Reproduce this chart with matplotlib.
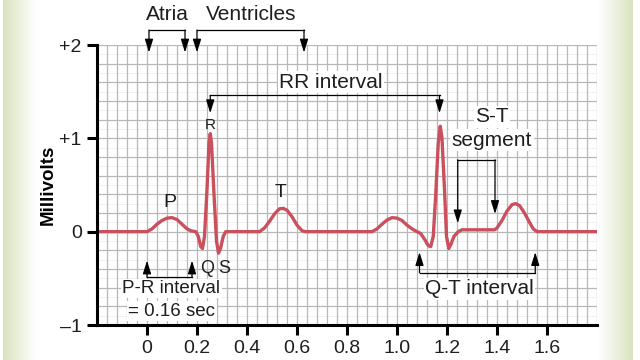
import numpy as np
import matplotlib
matplotlib.use("Agg")
import matplotlib.pyplot as plt

plt.rcParams['font.family'] = ['Liberation Sans', 'DejaVu Sans']

# -----------------------------
# ECG trace (time in s, voltage in mV)
# -----------------------------
t_sec = [-0.2, 0.0, 0.02, 0.04, 0.06, 0.08, 0.10, 0.12, 0.14, 0.16, 0.175,
         0.195, 0.205, 0.215, 0.222, 0.23, 0.24, 0.248, 0.253, 0.258, 0.268,
         0.278, 0.286, 0.294, 0.305, 0.315, 0.45, 0.47, 0.49, 0.51, 0.53,
         0.545, 0.56, 0.58, 0.60, 0.62, 0.635, 0.90, 0.92, 0.94, 0.96, 0.98,
         1.00, 1.02, 1.04, 1.06, 1.08, 1.095, 1.11, 1.125, 1.135, 1.145,
         1.155, 1.165, 1.173, 1.18, 1.19, 1.198, 1.207, 1.215, 1.228, 1.245,
         1.26, 1.39, 1.40, 1.42, 1.44, 1.46, 1.475, 1.49, 1.51, 1.53, 1.545,
         1.56, 1.8]
mv = [0.0, 0.0, 0.03, 0.08, 0.12, 0.145, 0.15, 0.13, 0.08, 0.03, 0.01,
      0.0, -0.05, -0.16, -0.18, -0.05, 0.45, 0.95, 1.05, 0.95, 0.4,
      -0.1, -0.23, -0.18, -0.05, 0.0, 0.0, 0.04, 0.11, 0.19, 0.245,
      0.25, 0.23, 0.16, 0.07, 0.01, 0.0, 0.0, 0.03, 0.08, 0.125, 0.15,
      0.145, 0.12, 0.07, 0.03, 0.0, -0.02, -0.08, -0.15, -0.16, -0.05,
      0.4, 0.95, 1.13, 1.0, 0.45, -0.05, -0.18, -0.14, -0.05, 0.0,
      0.02, 0.02, 0.04, 0.12, 0.22, 0.29, 0.30, 0.28, 0.2, 0.1, 0.03,
      0.0, 0.0]

x_ticks = [0, 0.2, 0.4, 0.6, 0.8, 1.0, 1.2, 1.4, 1.6]
x_tick_labels = ["0", "0.2", "0.4", "0.6", "0.8", "1.0", "1.2", "1.4", "1.6"]
y_ticks = [-1, 0, 1, 2]
y_tick_labels = ["\u20131", "0", "+1", "+2"]

# brackets: x left, x right, y of bracket line, y of arrow tips
atria_br = (0.008, 0.152, 2.16, 1.92)
ventricles_br = (0.2, 0.628, 2.16, 1.92)
rr_br = (0.253, 1.17, 1.46, 1.27)
st_br = (1.243, 1.392, 0.77, (0.09, 0.19))
pr_br = (0.0, 0.18, -0.49, -0.31)
qt_br = (1.09, 1.553, -0.44, -0.22)

ecg_color = "#c9505c"
txt_color = "#1e1e1e"

fig = plt.figure(figsize=(6.4, 3.6), dpi=100)

# greenish side strips
def side_strip(rect, reverse):
    sax = fig.add_axes(rect, zorder=-5)
    g = np.linspace(0, 1, 64)
    if reverse:
        g = g[::-1]
    green = np.array([0.85, 0.89, 0.75])
    white = np.array([1.0, 1.0, 1.0])
    row = white[None, :] * g[:, None] + green[None, :] * (1 - g[:, None])
    sax.imshow(row[None, :, :], aspect="auto", extent=(0, 1, 0, 1))
    sax.axis("off")

side_strip([3 / 640, 0, 34 / 640, 1], reverse=False)
side_strip([598 / 640, 0, 35 / 640, 1], reverse=True)

ax = fig.add_axes([97 / 640, 35 / 360, 500 / 640, 280 / 360])
ax.set_xlim(-0.2, 1.8)
ax.set_ylim(-1, 2)

# ECG paper grid
for xv in np.arange(-0.2, 1.8001, 0.04):
    ax.axvline(xv, color="#b8b8b8", lw=0.9, zorder=1)
for yv in np.arange(-1, 2.001, 0.2):
    ax.axhline(yv, color="#b8b8b8", lw=0.9, zorder=1)
for yv in np.arange(-0.9, 2.0, 0.2):
    ax.axhline(yv, color="#eeeeee", lw=0.6, zorder=0.9)

ax.plot(t_sec, mv, color=ecg_color, lw=2.4, solid_joinstyle="round",
        solid_capstyle="round", zorder=3)

for side in ["top", "right"]:
    ax.spines[side].set_visible(False)
for side in ["left", "bottom"]:
    ax.spines[side].set_linewidth(2.2)
    ax.spines[side].set_zorder(4)

ax.set_xticks(x_ticks)
ax.set_xticklabels(x_tick_labels)
ax.set_yticks(y_ticks)
ax.set_yticklabels(y_tick_labels)
ax.tick_params(axis="both", direction="out", length=7, width=2.2,
               labelsize=14, colors="black", labelcolor=txt_color)
ax.tick_params(axis="x", pad=4)
ax.tick_params(axis="y", pad=4)
ax.set_ylabel("Millivolts", fontsize=13.5, fontweight="bold", labelpad=2)

arrow_kw = dict(arrowstyle="-|>,head_length=0.8,head_width=0.25",
                color="black", lw=0.9, shrinkA=0, shrinkB=0,
                mutation_scale=10)


def bracket(x0, x1, y_line, y_tips):
    if not isinstance(y_tips, tuple):
        y_tips = (y_tips, y_tips)
    ax.plot([x0, x1], [y_line, y_line], color="black", lw=0.9,
            clip_on=False, zorder=5)
    for xv, yt in zip((x0, x1), y_tips):
        ax.annotate("", xy=(xv, yt), xytext=(xv, y_line),
                    arrowprops=arrow_kw, annotation_clip=False, zorder=5)


for br in (atria_br, ventricles_br, rr_br, st_br, pr_br, qt_br):
    bracket(*br)

box = dict(facecolor="white", edgecolor="none", pad=1)
text_kw = dict(ha="center", va="center", color=txt_color, zorder=6)

ax.text(0.08, 2.33, "Atria", fontsize=15, clip_on=False, **text_kw)
ax.text(0.415, 2.33, "Ventricles", fontsize=15, clip_on=False, **text_kw)
ax.text(0.736, 1.6, "RR interval", fontsize=15, bbox=box, **text_kw)
ax.text(1.38, 1.23, "S-T", fontsize=15, bbox=box, **text_kw)
ax.text(1.38, 0.98, "segment", fontsize=15, bbox=box, **text_kw)
ax.text(0.097, -0.61, "P-R interval", fontsize=13.5, bbox=box, **text_kw)
ax.text(0.1, -0.85, "= 0.16 sec", fontsize=13.5, bbox=box, **text_kw)
ax.text(1.33, -0.61, "Q-T interval", fontsize=15, bbox=box, **text_kw)
ax.text(0.253, 1.14, "R", fontsize=11, **text_kw)
ax.text(0.093, 0.31, "P", fontsize=14, **text_kw)
ax.text(0.535, 0.42, "T", fontsize=14, **text_kw)
ax.text(0.241, -0.39, "Q", fontsize=13, **text_kw)
ax.text(0.31, -0.39, "S", fontsize=13, **text_kw)

fig.savefig("out.png", dpi=100)
